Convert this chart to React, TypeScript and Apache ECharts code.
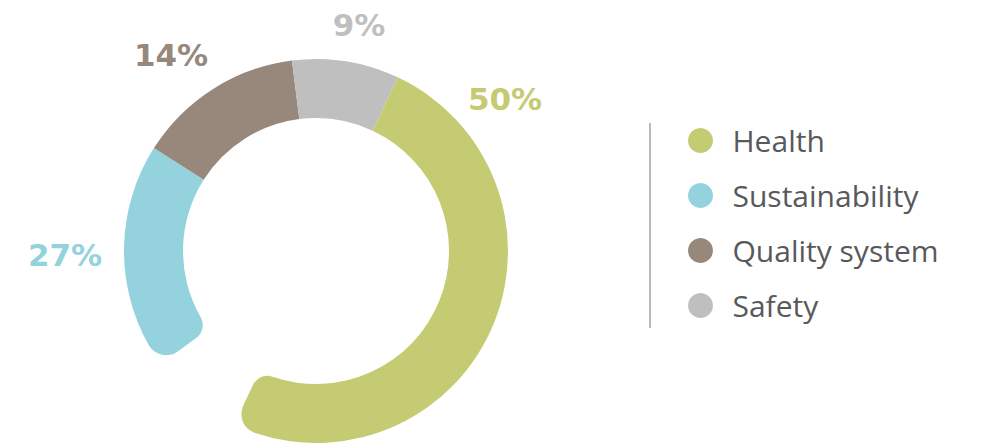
import React, { useEffect, useRef } from 'react';
import * as echarts from 'echarts';

// ---- data ----
const categories = ['Health', 'Sustainability', 'Quality system', 'Safety'];
const shares = [50, 27, 14, 9];
// clockwise order of the ring, starting at the open end (bottom-left)
const ringOrder = ['Sustainability', 'Quality system', 'Safety', 'Health'];
// part of the first segment left unfilled (the gap of the open ring)
const gapShare = 8;

// ---- styles / layout ----
const colors = ['#C5CB73', '#94D3DE', '#98887C', '#BFBFBF'];
const labelSpots: [number, number][] = [[505, 99], [65, 255], [171, 55], [359, 25]];
const ringCenter = [316, 251];
const ringRadius = [133, 192];
const ringStart = 244.8;

export default function App() {
  const ref = useRef<HTMLDivElement>(null);
  useEffect(() => {
    if (!ref.current) return;
    const chart = echarts.init(ref.current, undefined, { renderer: 'svg' });
    const last = ringOrder.length - 1;
    const series: any[] = [];
    ringOrder.forEach((name, k) => {
      const i = categories.indexOf(name);
      let borderRadius: number[] = [0, 0, 0, 0];
      if (k === 0) borderRadius = [16, 0, 20, 0];
      if (k === last) borderRadius = [0, 16, 0, 20];
      if (k === 0) {
        // placeholder keeps the full share in the stack
        series.push({
          type: 'bar',
          name: name + ' (stack)',
          coordinateSystem: 'polar',
          polarIndex: 0,
          stack: 'ring',
          data: [shares[i]],
          barWidth: '100%',
          itemStyle: { color: 'rgba(0,0,0,0)' },
          emphasis: { disabled: true },
          silent: true,
        });
        // visible part, drawn after the gap
        series.push({
          type: 'bar',
          name,
          coordinateSystem: 'polar',
          polarIndex: 1,
          data: [shares[i]],
          barWidth: '100%',
          itemStyle: { color: colors[i], borderRadius },
          emphasis: { disabled: true },
          silent: true,
        });
      } else {
        series.push({
          type: 'bar',
          name,
          coordinateSystem: 'polar',
          polarIndex: 0,
          stack: 'ring',
          data: [shares[i]],
          barWidth: '100%',
          itemStyle: { color: colors[i], borderRadius },
          emphasis: { disabled: true },
          silent: true,
        });
      }
    });
    const labels = categories.map((name, i) => ({
      type: 'text',
      x: labelSpots[i][0],
      y: labelSpots[i][1],
      style: {
        text: `${shares[i]}%`,
        fill: colors[i],
        font: 'bold 31px "DejaVu Sans"',
        textAlign: 'center',
        textVerticalAlign: 'middle',
      },
    }));
    const angleBase = {
      type: 'value',
      min: 0,
      max: 100,
      startAngle: ringStart,
      clockwise: true,
      show: false,
    };
    chart.setOption({
      animation: false,
      polar: [
        { center: ringCenter, radius: ringRadius },
        { center: ringCenter, radius: ringRadius },
      ],
      angleAxis: [
        { ...angleBase, polarIndex: 0 },
        { ...angleBase, polarIndex: 1, startValue: gapShare },
      ],
      radiusAxis: [
        { type: 'category', data: ['ring'], show: false, polarIndex: 0 },
        { type: 'category', data: ['ring'], show: false, polarIndex: 1 },
      ],
      legend: {
        orient: 'vertical',
        left: 688,
        top: 125.5,
        padding: 0,
        itemWidth: 54,
        itemHeight: 25,
        itemGap: 25,
        icon: 'circle',
        selectedMode: false,
        data: categories,
        textStyle: {
          fontFamily: '"Open Sans"',
          fontSize: 30,
          lineHeight: 30,
          color: '#58595B',
        },
      },
      graphic: [
        {
          type: 'line',
          shape: { x1: 650, y1: 123, x2: 650, y2: 328 },
          style: { stroke: '#A9A9AE', lineWidth: 1.6 },
        },
        ...labels,
      ],
      series,
    });
    return () => chart.dispose();
  }, []);
  return (
    <div
      ref={ref}
      style={{ position: 'fixed', left: 0, top: 0, width: 1000, height: 446, background: '#fff' }}
    />
  );
}
